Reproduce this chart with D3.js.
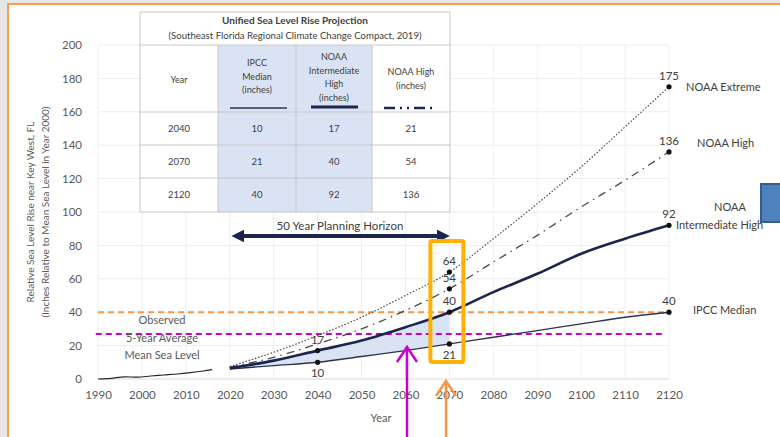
<!DOCTYPE html>
<html><head><meta charset="utf-8">
<script src="https://cdn.jsdelivr.net/npm/d3@7"></script>
<style>
html,body{margin:0;padding:0;background:#e6e6e6;overflow:hidden;}
svg{display:block;font-family:Lato,"Liberation Sans",sans-serif;}
</style></head>
<body>
<svg id="c" width="780" height="437"></svg>
<script>
// ---- data ----
const obsYears   = [1990, 1993, 1996, 1999, 2002, 2005, 2008, 2011, 2014, 2016];
const obsValues  = [0, 0.4, 1.3, 1.1, 1.8, 2.4, 3.0, 3.8, 4.8, 5.6];
const projYears  = [2020, 2030, 2040, 2050, 2060, 2070, 2080, 2090, 2100, 2110, 2120];
const ipccMedian = [6, 8, 10, 13.5, 17, 21, 25, 29, 33, 37, 40];
const noaaIntHigh= [6.5, 11, 17, 23, 31, 40, 52, 63, 75, 84, 92];
const noaaHigh   = [7, 13, 21, 30, 41, 54, 70, 86, 103, 119, 136];
const noaaExtreme= [7.5, 16, 26, 37, 50, 64, 84, 105, 127, 151, 175];
const yTicks     = [0, 20, 40, 60, 80, 100, 120, 140, 160, 180, 200];
const xTicks     = [1990, 2000, 2010, 2020, 2030, 2040, 2050, 2060, 2070, 2080, 2090, 2100, 2110, 2120];
const tableYears = [2040, 2070, 2120];
const tableIpcc  = [10, 21, 40];
const tableInt   = [17, 40, 92];
const tableHigh  = [21, 54, 136];
// marked points: [year, value, label position]
const markedPoints = [
  [2040, 10, "below"], [2040, 17, "above"],
  [2070, 21, "below"], [2070, 40, "above"], [2070, 54, "above"], [2070, 64, "above"],
  [2120, 40, "above"], [2120, 92, "above"], [2120, 136, "above"], [2120, 175, "above"]
];
const ipccLevel  = 40;     // orange dashed reference
const observedLevel = 27;  // magenta dashed reference
const planStart = 2020, planEnd = 2070;

// ---- setup ----
const svg = d3.select("#c");
const x = d3.scaleLinear().domain([1990, 2120]).range([98, 669]);
const y = d3.scaleLinear().domain([0, 200]).range([379, 45]);
const txt = "#595959";

// frame
svg.append("rect").attr("x", 8).attr("y", 4).attr("width", 780).attr("height", 440)
  .attr("fill", "#fff").attr("stroke", "#f79646").attr("stroke-width", 1.8);

// gridlines
const g = svg.append("g");
g.selectAll(".hg").data(yTicks).join("line")
  .attr("x1", x(1990)).attr("x2", x(2120)).attr("y1", d => y(d)).attr("y2", d => y(d))
  .attr("stroke", d => d === 0 ? "#d9d9d9" : "#ececec").attr("stroke-width", 1);
g.selectAll(".vg").data(xTicks).join("line")
  .attr("x1", d => x(d)).attr("x2", d => x(d)).attr("y1", y(0)).attr("y2", y(200))
  .attr("stroke", "#efefef").attr("stroke-width", 1);

// axes
const yAxis = svg.append("g").attr("transform", `translate(${x(1990) - 16},0)`)
  .call(d3.axisLeft(y).tickValues(yTicks).tickSize(0).tickPadding(0));
const xAxis = svg.append("g").attr("transform", `translate(0,${y(0) + 8})`)
  .call(d3.axisBottom(x).tickValues(xTicks).tickFormat(d3.format("d")).tickSize(0).tickPadding(4));
[yAxis, xAxis].forEach(a => {
  a.select(".domain").remove();
  a.selectAll("text").attr("fill", txt).attr("font-size", 11.5).attr("font-family", "Lato, sans-serif");
});

// axis titles
svg.append("text").attr("x", 381).attr("y", 422).attr("text-anchor", "middle")
  .attr("fill", txt).attr("font-size", 11).text("Year");
const yt = svg.append("text").attr("transform", "translate(34,212) rotate(-90)")
  .attr("text-anchor", "middle").attr("fill", txt).attr("font-size", 10);
yt.append("tspan").attr("x", 0).attr("dy", 0).text("Relative Sea Level Rise near Key West, FL");
yt.append("tspan").attr("x", 0).attr("dy", 15).text("(Inches Relative to Mean Sea Level in Year 2000)");

// shaded area between IPCC and NOAA Int High up to planEnd
const areaData = projYears.map((yr, i) => ({ yr, lo: ipccMedian[i], hi: noaaIntHigh[i] }))
  .filter(d => d.yr <= planEnd);
svg.append("path").datum(areaData)
  .attr("d", d3.area().x(d => x(d.yr)).y0(d => y(d.lo)).y1(d => y(d.hi)).curve(d3.curveMonotoneX))
  .attr("fill", "#dae3f3");

// reference dashed lines
svg.append("line").attr("x1", x(1990)).attr("x2", x(2120)).attr("y1", y(ipccLevel)).attr("y2", y(ipccLevel))
  .attr("stroke", "#f79646").attr("stroke-width", 2).attr("stroke-dasharray", "6,4");
svg.append("line").attr("x1", x(1989.5)).attr("x2", x(2118.5)).attr("y1", y(observedLevel)).attr("y2", y(observedLevel))
  .attr("stroke", "#cc00cc").attr("stroke-width", 2).attr("stroke-dasharray", "6,4");

// lines
const line = d3.line().x(d => x(d[0])).y(d => y(d[1])).curve(d3.curveMonotoneX);
const zipP = arr => projYears.map((yr, i) => [yr, arr[i]]);
svg.append("path").datum(obsYears.map((yr, i) => [yr, obsValues[i]])).attr("d", line)
  .attr("fill", "none").attr("stroke", "#262626").attr("stroke-width", 1.2);
svg.append("path").datum(zipP(noaaExtreme)).attr("d", line)
  .attr("fill", "none").attr("stroke", "#4a4a4a").attr("stroke-width", 1.2).attr("stroke-dasharray", "1.5,1.8");
svg.append("path").datum(zipP(noaaHigh)).attr("d", line)
  .attr("fill", "none").attr("stroke", "#4a4a4a").attr("stroke-width", 1.3).attr("stroke-dasharray", "8,5,1.5,5");
svg.append("path").datum(zipP(ipccMedian)).attr("d", line)
  .attr("fill", "none").attr("stroke", "#2b3350").attr("stroke-width", 1.4);
svg.append("path").datum(zipP(noaaIntHigh)).attr("d", line)
  .attr("fill", "none").attr("stroke", "#1c2550").attr("stroke-width", 2.6);

// markers and value labels
svg.selectAll(".dot").data(markedPoints).join("circle")
  .attr("cx", d => x(d[0])).attr("cy", d => y(d[1])).attr("r", 2.6).attr("fill", "#111");
svg.selectAll(".vl").data(markedPoints).join("text")
  .attr("x", d => x(d[0])).attr("y", d => d[2] === "above" ? y(d[1]) - 7 : y(d[1]) + 15)
  .attr("text-anchor", "middle").attr("fill", "#404040").attr("font-size", 11.5)
  .text(d => d[1]);

// right-side series labels
const rl = svg.append("g").attr("fill", "#404040").attr("font-size", 11);
rl.append("text").attr("x", 686).attr("y", y(175) + 4).text("NOAA Extreme");
rl.append("text").attr("x", 697).attr("y", y(136) - 5).text("NOAA High");
rl.append("text").attr("x", 730).attr("y", y(92) - 14).attr("text-anchor", "middle").text("NOAA");
rl.append("text").attr("x", 676).attr("y", y(92) + 4).text("Intermediate High");
rl.append("text").attr("x", 693).attr("y", y(40) + 2).text("IPCC Median");
svg.append("rect").attr("x", 761).attr("y", 184).attr("width", 30).attr("height", 38)
  .attr("fill", "#4f81bd").attr("stroke", "#385d8a").attr("stroke-width", 2);

// observed text
const ot = svg.append("text").attr("text-anchor", "middle").attr("fill", txt).attr("font-size", 11);
[["Observed", 324], ["5-Year Average", 342], ["Mean Sea Level", 359]].forEach(([t, yy]) =>
  ot.append("tspan").attr("x", 162).attr("y", yy).text(t));

// planning horizon arrow
const defs = svg.append("defs");
["s", "e"].forEach(k => {
  defs.append("marker").attr("id", "ah" + k).attr("viewBox", "0 0 10 10").attr("refX", 5).attr("refY", 5)
    .attr("markerWidth", 3.2).attr("markerHeight", 3.2).attr("orient", k === "s" ? "auto-start-reverse" : "auto")
    .append("path").attr("d", "M0,0 L10,5 L0,10 z").attr("fill", "#1c2550");
});
svg.append("line").attr("x1", x(planStart) + 8).attr("x2", x(planEnd) - 6).attr("y1", 236).attr("y2", 236)
  .attr("stroke", "#1c2550").attr("stroke-width", 4)
  .attr("marker-start", "url(#ahs)").attr("marker-end", "url(#ahe)");
svg.append("text").attr("x", 340).attr("y", 230).attr("text-anchor", "middle")
  .attr("fill", "#404040").attr("font-size", 11.5).text("50 Year Planning Horizon");

// highlight box around 2070
svg.append("rect").attr("x", x(planEnd) - 19).attr("y", 241).attr("width", 33).attr("height", 121)
  .attr("rx", 2).attr("fill", "none").attr("stroke", "#ffb000").attr("stroke-width", 4);

// arrows from bottom
function upArrow(ax, tip, col) {
  svg.append("line").attr("x1", ax).attr("x2", ax).attr("y1", 440).attr("y2", tip)
    .attr("stroke", col).attr("stroke-width", 2.5);
  svg.append("path").attr("d", `M${ax - 10},${tip + 15} L${ax},${tip} L${ax + 10},${tip + 15}`)
    .attr("fill", "none").attr("stroke", col).attr("stroke-width", 2.5);
}
upArrow(407, 347, "#cc00cc");
upArrow(446, 381, "#f79646");

// table
const T = { x0: 140, y0: 12, cols: [140, 218, 296, 372, 450], rows: [12, 45, 112, 145, 178, 212] };
const tb = svg.append("g");
tb.append("rect").attr("x", T.x0).attr("y", T.y0).attr("width", 310).attr("height", 200)
  .attr("fill", "#fff");
[1, 2].forEach(c => {
  tb.append("rect").attr("x", T.cols[c]).attr("y", T.rows[1]).attr("width", T.cols[c + 1] - T.cols[c])
    .attr("height", T.rows[5] - T.rows[1]).attr("fill", "#dae3f3");
});
T.rows.forEach(r => tb.append("line").attr("x1", T.x0).attr("x2", 450).attr("y1", r).attr("y2", r)
  .attr("stroke", "#c8c8c8").attr("stroke-width", 1));
[140, 450].forEach(c => tb.append("line").attr("x1", c).attr("x2", c).attr("y1", T.rows[0]).attr("y2", T.rows[5])
  .attr("stroke", "#c8c8c8"));
[218, 296, 372].forEach(c => tb.append("line").attr("x1", c).attr("x2", c).attr("y1", T.rows[1]).attr("y2", T.rows[5])
  .attr("stroke", "#c8c8c8"));
tb.append("text").attr("x", 295).attr("y", 24).attr("text-anchor", "middle").attr("font-weight", "bold")
  .attr("font-size", 10).attr("fill", "#404040").text("Unified Sea Level Rise Projection");
tb.append("text").attr("x", 295).attr("y", 39).attr("text-anchor", "middle")
  .attr("font-size", 9.6).attr("fill", "#404040").text("(Southeast Florida Regional Climate Change Compact, 2019)");
const hdr = [
  { cx: 179, lines: ["Year"], y0: 83 },
  { cx: 257, lines: ["IPCC", "Median", "(inches)"], y0: 66 },
  { cx: 334, lines: ["NOAA", "Intermediate", "High", "(inches)"], y0: 60 },
  { cx: 411, lines: ["NOAA High", "(inches)"], y0: 75 }
];
hdr.forEach(h => {
  const t = tb.append("text").attr("text-anchor", "middle").attr("font-size", 9).attr("fill", "#404040");
  h.lines.forEach((l, i) => t.append("tspan").attr("x", h.cx).attr("y", h.y0 + i * 13.5).text(l));
});
tb.append("line").attr("x1", 230).attr("x2", 287).attr("y1", 108).attr("y2", 108).attr("stroke", "#2b3350").attr("stroke-width", 1.5);
tb.append("line").attr("x1", 311).attr("x2", 358).attr("y1", 107).attr("y2", 107).attr("stroke", "#1c2550").attr("stroke-width", 3);
tb.append("line").attr("x1", 384).attr("x2", 437).attr("y1", 108).attr("y2", 108).attr("stroke", "#1c2550")
  .attr("stroke-width", 2.5).attr("stroke-dasharray", "11,5,2,5,2,5");
const rowsData = tableYears.map((yr, i) => [yr, tableIpcc[i], tableInt[i], tableHigh[i]]);
rowsData.forEach((r, i) => {
  const cy = (T.rows[i + 2] + T.rows[i + 3]) / 2 + 3;
  r.forEach((v, c) => tb.append("text").attr("x", (T.cols[c] + T.cols[c + 1]) / 2).attr("y", cy)
    .attr("text-anchor", "middle").attr("font-size", 9.5).attr("fill", "#404040").text(v));
});
</script>
</body></html>
